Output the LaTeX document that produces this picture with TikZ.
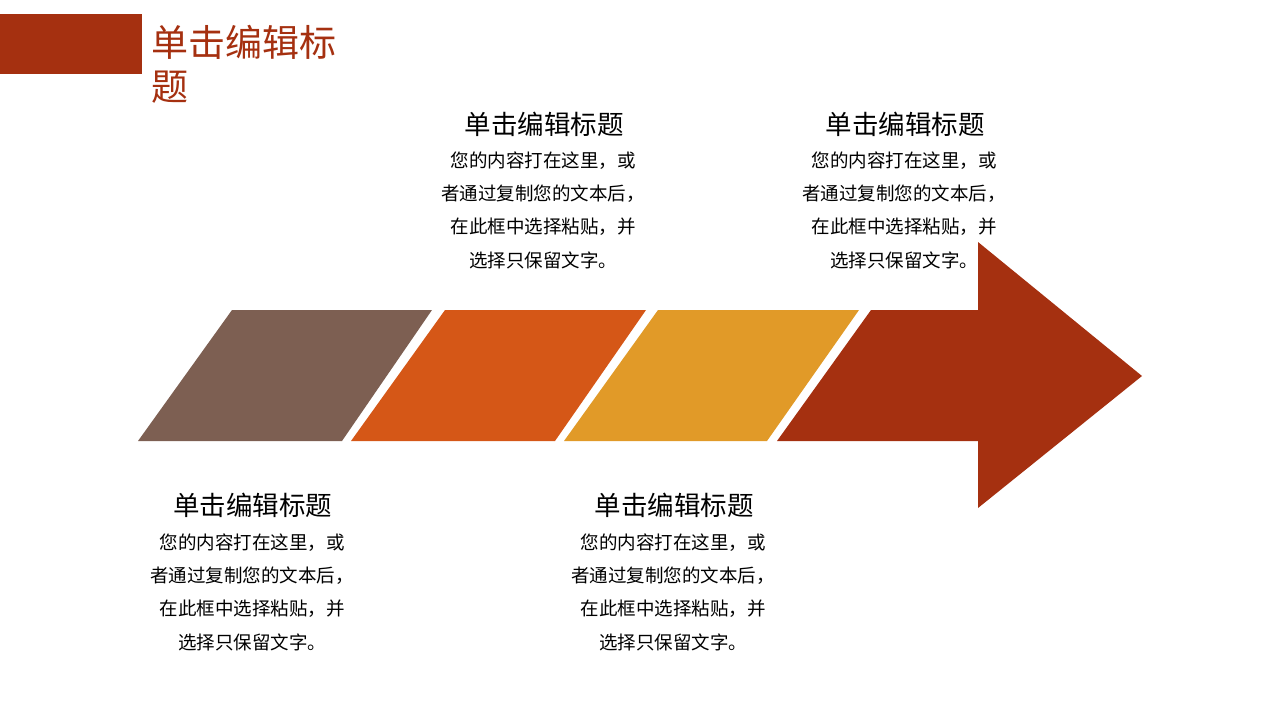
\documentclass[tikz,border=0pt]{standalone}
\usepackage{fontspec}
\newfontfamily\cjk{Noto Sans CJK SC}
\definecolor{cbrown}{RGB}{125,95,82}
\definecolor{corange}{RGB}{213,87,23}
\definecolor{cyellow}{RGB}{225,154,40}
\definecolor{cred}{RGB}{165,48,16}
\begin{document}
\begin{tikzpicture}[x=1pt,y=-1pt,
  headtext/.style={font=\cjk\fontsize{26.5}{30}\selectfont, inner sep=0pt, text=black},
  bodytext/.style={font=\cjk\fontsize{18.5}{33.3}\selectfont, align=center, inner sep=0pt, text=black},
  titletext/.style={font=\cjk\fontsize{37}{44}\selectfont, align=left, inner sep=0pt, text=cred, anchor=west}]
\useasboundingbox (0,0) rectangle (1280,720);
% title bar
\fill[cred] (0,14) rectangle (142,74);
\node[titletext] (title) at (151,64) {单击编辑标\\题};
% segments
\fill[cbrown] (138,441) -- (232,310) -- (432,310) -- (342,441) -- cycle;
\fill[corange] (351,441) -- (445,310) -- (646,310) -- (555,441) -- cycle;
\fill[cyellow] (564,441) -- (658,310) -- (859,310) -- (767,441) -- cycle;
\fill[cred] (777,441) -- (871,310) -- (978,310) -- (978,242) -- (1142,376) -- (978,508) -- (978,441) -- cycle;
% text blocks
\node[headtext] (h1) at (544,124) {单击编辑标题};
\node[bodytext] (b1) at (543,210) {您的内容打在这里，或\\者通过复制您的文本后，\\在此框中选择粘贴，并\\选择只保留文字。};
\node[headtext] (h2) at (905,124) {单击编辑标题};
\node[bodytext] (b2) at (904,210) {您的内容打在这里，或\\者通过复制您的文本后，\\在此框中选择粘贴，并\\选择只保留文字。};
\node[headtext] (h3) at (252.5,505) {单击编辑标题};
\node[bodytext] (b3) at (252,592) {您的内容打在这里，或\\者通过复制您的文本后，\\在此框中选择粘贴，并\\选择只保留文字。};
\node[headtext] (h4) at (674,505) {单击编辑标题};
\node[bodytext] (b4) at (673,592) {您的内容打在这里，或\\者通过复制您的文本后，\\在此框中选择粘贴，并\\选择只保留文字。};
\end{tikzpicture}
\end{document}
